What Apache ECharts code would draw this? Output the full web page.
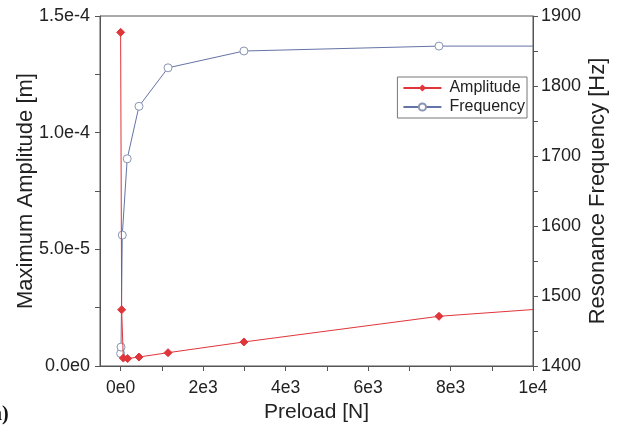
<!DOCTYPE html>
<html>
<head>
<meta charset="utf-8">
<script src="https://cdn.jsdelivr.net/npm/echarts@6/dist/echarts.min.js"></script>
<style>html,body{margin:0;padding:0;background:#fff;}#c{width:617px;height:431px;}</style>
</head>
<body>
<div id="c"></div>
<script>
// Data
var ampPreload = [0, 25, 65, 170, 445, 1150, 2990, 7720, 10000];
var amplitude  = [1.43e-4, 2.41e-5, 3.4e-6, 3.2e-6, 3.85e-6, 5.7e-6, 1.03e-5, 2.13e-5, 2.42e-5];
var freqPreload = [0, 10, 40, 160, 445, 1150, 2990, 7720, 10000];
var frequency   = [1418, 1427, 1587, 1696, 1771, 1826, 1850, 1857, 1857];
var xTickValues = [0, 1000, 2000, 3000, 4000, 5000, 6000, 7000, 8000, 9000, 10000];
var xLabelValues = [0, 2000, 4000, 6000, 8000, 10000];
var seriesNames = ['Amplitude', 'Frequency'];

var FONT = 'Liberation Sans';
var AX = '#555';
var RED = '#e0353a';
var BLUE = '#6474a6';

function pairs(xs, ys, lastNoSymbol) {
  return xs.map(function (x, i) {
    var d = { value: [x, ys[i]] };
    if (lastNoSymbol && i === xs.length - 1) d.symbol = 'none';
    return d;
  });
}

var chart = echarts.init(document.getElementById('c'), null, { renderer: 'canvas' });
chart.setOption({
  animation: false,
  backgroundColor: '#fff',
  textStyle: { fontFamily: FONT },
  grid: { left: 100, right: 84, top: 16, bottom: 65, show: true, borderColor: AX, borderWidth: 1,
          backgroundColor: 'transparent', containLabel: false, outerBoundsMode: 'none' },
  legend: {
    data: seriesNames,
    right: 90, top: 77,
    orient: 'vertical',
    backgroundColor: '#fff',
    borderColor: '#777', borderWidth: 1, borderRadius: 0,
    padding: [3, 2, 3, 5],
    itemGap: 3, itemWidth: 38, itemHeight: 9,
    textStyle: { fontFamily: FONT, fontSize: 16, color: '#222', padding: [0, 0, 0, 3] }
  },
  xAxis: {
    type: 'value', min: -500, max: 10000,
    name: 'Preload [N]', nameLocation: 'middle', nameGap: 36, nameMoveOverlap: false,
    nameTextStyle: { fontFamily: FONT, fontSize: 21, color: '#222' },
    axisLine: { show: true, onZero: false, lineStyle: { color: AX } },
    axisTick: { show: true, length: 5, customValues: xTickValues, lineStyle: { color: AX } },
    axisLabel: { customValues: xLabelValues, margin: 13, fontFamily: FONT, fontSize: 17.5, color: '#222',
      formatter: function (v) { return Number(v).toExponential(0).replace('e+', 'e'); } },
    splitLine: { show: false }
  },
  yAxis: [{
    type: 'value', min: 0, max: 1.5e-4, interval: 5e-5, position: 'left',
    name: 'Maximum Amplitude [m]', nameLocation: 'middle', nameGap: 63, nameMoveOverlap: false,
    nameTextStyle: { fontFamily: FONT, fontSize: 22, color: '#222' },
    axisLine: { show: true, onZero: false, lineStyle: { color: AX } },
    axisTick: { show: true, length: 5, lineStyle: { color: AX } },
    minorTick: { show: true, splitNumber: 2, length: 5, lineStyle: { color: AX } },
    axisLabel: { margin: 10, fontFamily: FONT, fontSize: 18, color: '#222',
      formatter: function (v) { return Number(v).toExponential(1).replace('e+', 'e'); } },
    splitLine: { show: false }
  }, {
    type: 'value', min: 1400, max: 1900, interval: 100, position: 'right',
    name: 'Resonance Frequency [Hz]', nameLocation: 'middle', nameGap: 54, nameMoveOverlap: false,
    nameTextStyle: { fontFamily: FONT, fontSize: 22, color: '#222' },
    axisLine: { show: true, onZero: false, lineStyle: { color: AX } },
    axisTick: { show: true, length: 5, lineStyle: { color: AX } },
    minorTick: { show: true, splitNumber: 2, length: 5, lineStyle: { color: AX } },
    axisLabel: { margin: 8, fontFamily: FONT, fontSize: 18, color: '#222',
      formatter: function (v) { return String(Math.round(v)); } },
    splitLine: { show: false }
  }],
  series: [{
    name: seriesNames[0], type: 'line', yAxisIndex: 0,
    data: pairs(ampPreload, amplitude, true),
    symbol: 'diamond', symbolSize: 8, showAllSymbol: true,
    lineStyle: { color: RED, width: 1 },
    itemStyle: { color: RED, borderColor: RED },
    clip: true, z: 3
  }, {
    name: seriesNames[1], type: 'line', yAxisIndex: 1,
    data: pairs(freqPreload, frequency, true),
    symbol: 'circle', symbolSize: 8, showAllSymbol: true,
    lineStyle: { color: BLUE, width: 1 },
    itemStyle: { color: '#fff', borderColor: '#8a94b4', borderWidth: 1 },
    clip: true, z: 2
  }],
  graphic: [{
    type: 'text', left: -8, top: 405,
    style: { text: 'a)', font: 'bold 20px "Liberation Serif"', fill: '#111' }
  }]
});
</script>
</body>
</html>
